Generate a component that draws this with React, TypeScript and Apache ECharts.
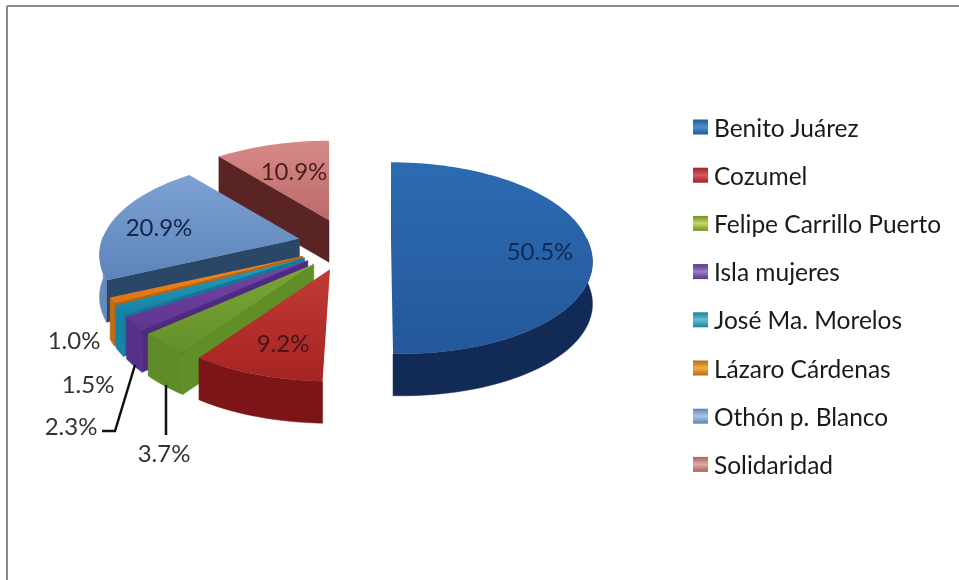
import React, { useEffect, useRef } from "react";
import * as echarts from "echarts";

const categories = ["Benito Juárez", "Cozumel", "Felipe Carrillo Puerto", "Isla mujeres", "José Ma. Morelos", "Lázaro Cárdenas", "Othón p. Blanco", "Solidaridad"];
const shares = [50.5, 9.2, 3.7, 2.3, 1.5, 1.0, 20.9, 10.9];
const paintOrder = [7, 6, 5, 4, 3, 2, 1, 0];
const legendColors = [
  ["#1f5a96", "#4f8fd0"], ["#96262a", "#e0555a"], ["#6f8f2c", "#c4dc5a"], ["#54397f", "#9a7cc8"],
  ["#1f7f95", "#5ec0d6"], ["#b86a18", "#f0b040"], ["#5f84ad", "#a8c8ea"], ["#a8625f", "#e0a8a6"],
];
const topColors = [
  ["#2c6bb2", "#24589a"], ["#c23a36", "#a52422"], ["#7aa636", "#64902a"], ["#7446a6", "#5f3590"],
  ["#1f9cc0", "#1884a6"], ["#f08a24", "#dd7414"], ["#7da2d2", "#5c84ba"], ["#d68a88", "#bb6a68"],
];
const radialColors = ["#14305e", "#7e1618", "#5f8f26", "#4f2a80", "#14769a", "#b8640f", "#2a4768", "#5a2425"];
const outerColors = ["#122b56", "#7c1517", "#5e8c28", "#573089", "#1583a5", "#c46c12", "#648ac0", "#7a3a3a"];

const CX = 344.6, CY = 244.6, EX = 46.4, EY = 25.9;
const RX = 197, RY = 93, PERSP = 0.17, DEPTH = 42, RISE = 0.07;
const rad = (d: number) => (d * Math.PI) / 180;

function slice(i: number) {
  const before = shares.slice(0, i).reduce((a, b) => a + b, 0);
  const a0 = (before / 100) * 360;
  const a1 = ((before + shares[i]) / 100) * 360;
  const mid = (a0 + a1) / 2;
  const ax = CX + EX * Math.sin(rad(mid));
  const ay = CY - EY * Math.cos(rad(mid)) - RISE * Math.max(ax - CX, 0);
  const at = (deg: number): number[] => {
    const u = Math.sin(rad(deg)), v = -Math.cos(rad(deg));
    const s = 1 / (1 - PERSP * v);
    const lean = Math.max(ax - CX, 0) * Math.max(s - 1, 0);
    return [ax + u * RX * s + lean, ay + v * RY * s];
  };
  return { a0, a1, ax, ay, at };
}

const down = (p: number[]) => [p[0], p[1] + DEPTH];

function renderSlice(i: number) {
  const { a0, a1, ax, ay, at } = slice(i);
  const steps = Math.max(6, Math.ceil((a1 - a0) / 2));
  const angles: number[] = [];
  for (let k = 0; k <= steps; k++) angles.push(a0 + ((a1 - a0) * k) / steps);
  const arc = angles.map(at);
  const apex = [ax, ay];
  const children: any[] = [];
  const wall = (points: number[][], fill: any) =>
    children.push({ type: "polygon", shape: { points }, style: { fill, stroke: fill, lineWidth: 0.5 } });
  if (-Math.sin(rad(a0)) > 0.05)
    wall([apex, arc[0], down(arc[0]), down(apex)], radialColors[i]);
  if (Math.sin(rad(a1)) > 0.05)
    wall([apex, arc[steps], down(arc[steps]), down(apex)], radialColors[i]);
  const front = angles.filter((d) => -Math.cos(rad(d)) > -0.05).map(at);
  if (front.length > 1) wall([...front, ...front.slice().reverse().map(down)], outerColors[i]);
  const ys = arc.map((p) => p[1]).concat(ay);
  const y0 = Math.min(...ys), y1 = Math.max(...ys);
  children.push({
    type: "polygon",
    shape: { points: [apex, ...arc] },
    style: {
      fill: new echarts.graphic.LinearGradient(0, y0, 0, y1, [
        { offset: 0, color: topColors[i][0] },
        { offset: 1, color: topColors[i][1] },
      ], true),
    },
  });
  return { type: "group", children };
}

const labelSpots: number[][] = [[540, 250], [283, 342], [164, 452], [71, 425], [88, 383], [74, 339], [159, 226], [294, 170]];
const labelFill = ["#0f2a55", "#4a1414", "#333", "#333", "#333", "#333", "#10254a", "#4a1c1c"];

export default function App() {
  const ref = useRef<HTMLDivElement>(null);
  useEffect(() => {
    document.body.style.margin = "0";
    const chart = echarts.init(ref.current!, null, { renderer: "svg" });
    chart.setOption({
      animation: false,
      backgroundColor: "#ffffff",
      legend: {
        orient: "vertical",
        left: 693,
        top: 114,
        padding: 0,
        itemWidth: 15,
        itemHeight: 15,
        itemGap: 22.2,
        icon: "rect",
        selectedMode: false,
        data: categories,
        textStyle: { fontFamily: "Lato", fontSize: 24.5, color: "#1a1a1a", padding: [0, 0, 0, 1], lineHeight: 26 },
      },
      series: paintOrder.map((i) => ({
        type: "custom",
        name: categories[i],
        coordinateSystem: "none",
        silent: true,
        itemStyle: {
          color: new echarts.graphic.LinearGradient(0, 0, 0, 1, [
            { offset: 0, color: legendColors[i][0] },
            { offset: 0.5, color: legendColors[i][1] },
            { offset: 1, color: legendColors[i][0] },
          ]),
        },
        data: [{ name: categories[i], value: shares[i] }],
        renderItem: () => renderSlice(i),
      })),
      graphic: [
        { type: "line", shape: { x1: 7, y1: 6, x2: 959, y2: 6 }, style: { stroke: "#8a8a8a", lineWidth: 2 }, z: 10 },
        { type: "line", shape: { x1: 7, y1: 6, x2: 7, y2: 580 }, style: { stroke: "#8a8a8a", lineWidth: 2 }, z: 10 },
        { type: "line", shape: { x1: 166, y1: 385, x2: 166, y2: 435 }, style: { stroke: "#111", lineWidth: 2.5 }, z: 10 },
        { type: "polyline", shape: { points: [[135, 365], [115, 431], [102, 431]] }, style: { stroke: "#111", lineWidth: 2.5, fill: "none" }, z: 10 },
        ...shares.map((v, i) => ({
          type: "text",
          x: labelSpots[i][0],
          y: labelSpots[i][1],
          z: 20,
          style: {
            text: `${v.toFixed(1)}%`,
            fontFamily: "Lato",
            fontSize: 24,
            fill: labelFill[i],
            align: "center",
            verticalAlign: "middle",
          },
        })),
      ],
    });
    return () => chart.dispose();
  }, []);
  return <div ref={ref} style={{ width: 959, height: 580, filter: "blur(0.5px)" }} />;
}
